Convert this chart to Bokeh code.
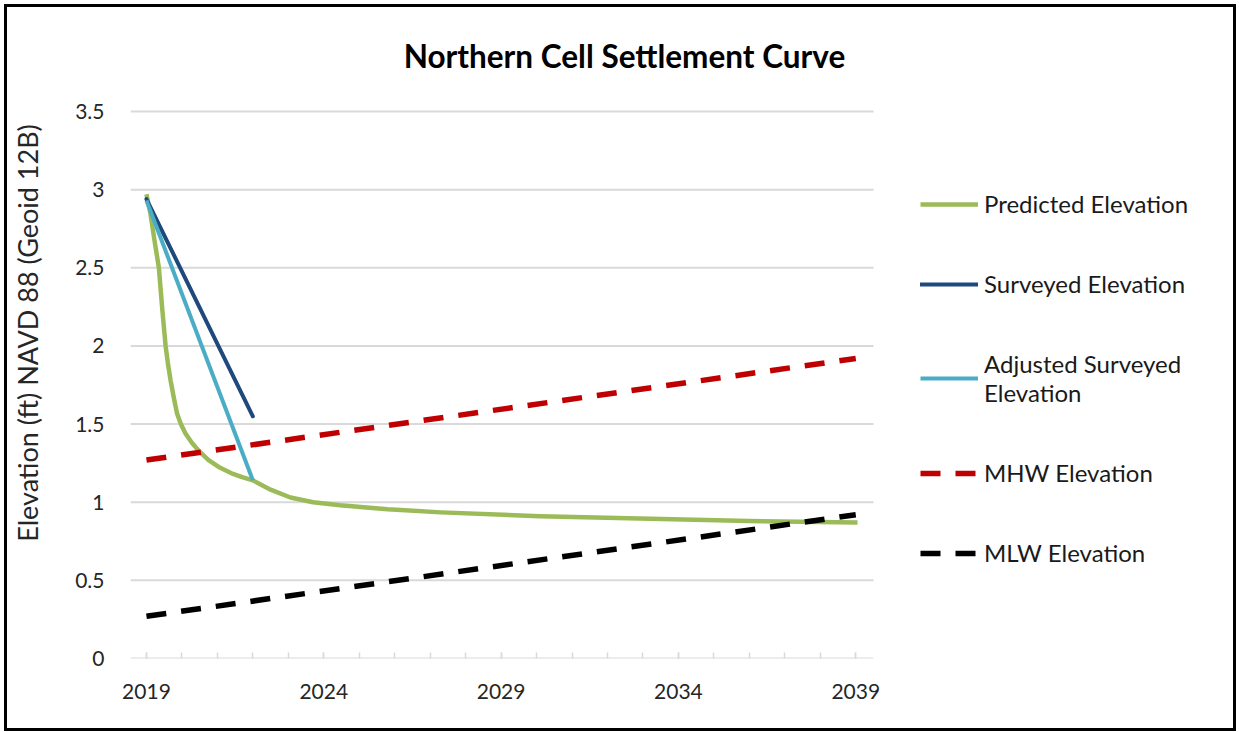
from bokeh.plotting import figure
from bokeh.models import Range1d, FixedTicker, Legend, LegendItem, Label
from bokeh.embed import file_html
from bokeh.resources import INLINE

# ---- data ----
pred_years = [2019.0, 2019.11, 2019.23, 2019.35, 2019.44, 2019.54, 2019.61, 2019.68,
              2019.77, 2019.86, 2019.97, 2020.1, 2020.28, 2020.47, 2020.75, 2021.08,
              2021.4, 2021.7, 2022.0, 2022.5, 2023.06, 2023.7, 2024.46, 2025.8,
              2027.3, 2030.1, 2032.9, 2036.0, 2039.05]
pred_vals = [2.97, 2.85, 2.67, 2.50, 2.25, 2.00, 1.88, 1.78,
             1.67, 1.57, 1.50, 1.44, 1.38, 1.33, 1.27, 1.22,
             1.185, 1.16, 1.14, 1.08, 1.03, 1.00, 0.98, 0.955,
             0.935, 0.91, 0.895, 0.88, 0.87]

surv_years = [2019, 2022]
surv_vals = [2.94, 1.55]

adj_years = [2019, 2022]
adj_vals = [2.93, 1.14]

tide_years = [2019, 2039]
mhw_vals = [1.27, 1.92]
mlw_vals = [0.27, 0.92]

x_ticks = [2019, 2024, 2029, 2034, 2039]
y_ticks = [0, 0.5, 1, 1.5, 2, 2.5, 3, 3.5]

FONT = "Lato"
TXT = "#262626"

# plotting area of the chart (years / elevation)
X_LO, X_HI = 2018.55, 2039.5
Y_TOP = 3.5

# frame covers the chart area plus the title and legend space
FRAME_W, FRAME_H = 1099, 651
PX_PER_YEAR = 743 / (X_HI - X_LO)
PX_PER_FT = 547 / Y_TOP

p = figure(width=1226, height=721, frame_width=FRAME_W, frame_height=FRAME_H,
           output_backend="svg", toolbar_location=None,
           x_range=Range1d(X_LO, X_LO + FRAME_W / PX_PER_YEAR),
           y_range=Range1d(0, FRAME_H / PX_PER_FT),
           min_border_left=123, min_border_right=4, min_border_top=0,
           min_border_bottom=70)
p.styles = {"outline": "3px solid black", "margin-left": "7px", "margin-top": "7px"}
p.outline_line_color = None
p.background_fill_color = "white"
p.border_fill_color = "white"
p.xgrid.visible = False
p.ygrid.visible = False

# horizontal gridlines limited to the chart area (the 0 line is the axis line)
p.segment(x0=[X_LO] * len(y_ticks), x1=[X_HI] * len(y_ticks), y0=y_ticks, y1=y_ticks,
          line_color="#d9d9d9", line_width=2)

# axes
xa = p.xaxis[0]
xa.ticker = FixedTicker(ticks=x_ticks, minor_ticks=list(range(2019, 2040)))
xa.axis_line_color = None
xa.major_tick_line_color = "#d9d9d9"
xa.minor_tick_line_color = "#d9d9d9"
xa.major_tick_line_width = 1.5
xa.minor_tick_line_width = 1.5
xa.major_tick_in = 6
xa.major_tick_out = 0
xa.minor_tick_in = 6
xa.minor_tick_out = 0
xa.major_label_text_font = FONT
xa.major_label_text_font_size = "21px"
xa.major_label_text_color = TXT
xa.major_label_standoff = 25

ya = p.yaxis[0]
ya.ticker = FixedTicker(ticks=y_ticks)
ya.axis_line_color = None
ya.major_tick_line_color = None
ya.minor_tick_line_color = None
ya.major_label_text_font = FONT
ya.major_label_text_font_size = "21px"
ya.major_label_text_color = TXT
ya.major_label_standoff = 20
ya.axis_label = "Elevation (ft) NAVD 88 (Geoid 12B)"
ya.axis_label_text_font = FONT
ya.axis_label_text_font_size = "27px"
ya.axis_label_text_font_style = "normal"
ya.axis_label_text_color = TXT
ya.axis_label_standoff = 28

# series
r_pred = p.line(pred_years, pred_vals, line_color="#9bbb59", line_width=4.5, line_join="round")
r_surv = p.line(surv_years, surv_vals, line_color="#1f497d", line_width=4, line_cap="round")
r_adj = p.line(adj_years, adj_vals, line_color="#4bacc6", line_width=4)
r_mhw = p.line(tide_years, mhw_vals, line_color="#c00000", line_width=5.5, line_dash="20 15")
r_mlw = p.line(tide_years, mlw_vals, line_color="#000000", line_width=5.5, line_dash="20 15")

legend = Legend(items=[
    LegendItem(label="Predicted Elevation", renderers=[r_pred]),
    LegendItem(label="Surveyed Elevation", renderers=[r_surv]),
    LegendItem(label="Adjusted Surveyed\nElevation", renderers=[r_adj]),
    LegendItem(label="MHW Elevation", renderers=[r_mhw]),
    LegendItem(label="MLW Elevation", renderers=[r_mlw]),
], location=(790, 91))
legend.margin = 0
legend.padding = 0
legend.spacing = 51
legend.glyph_width = 58
legend.glyph_height = 20
legend.label_height = 20
legend.label_standoff = 6
legend.label_text_font = FONT
legend.label_text_font_size = "24px"
legend.label_text_color = "#1a1a1a"
legend.border_line_color = None
legend.background_fill_alpha = 0
p.add_layout(legend, "center")

# title, centred over the whole chart
title_x = X_LO + 494 / PX_PER_YEAR
title_y = (FRAME_H - 48) / PX_PER_FT
p.add_layout(Label(x=title_x, y=title_y, text="Northern Cell Settlement Curve",
                   text_font=FONT, text_font_size="31.5px", text_font_style="bold",
                   text_color="#000000", text_align="center", text_baseline="middle"))

open("out.html", "w").write(file_html(p, INLINE))
